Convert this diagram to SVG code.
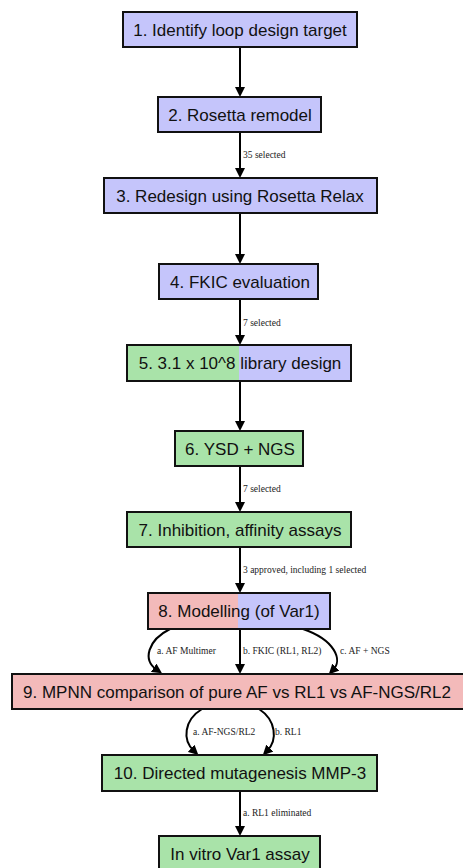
<svg xmlns="http://www.w3.org/2000/svg" width="463" height="868" viewBox="0 0 463 868">
<style>
.box{stroke:#111;stroke-width:2}
.blue{fill:#c5c5fb}
.green{fill:#a9e3a9}
.pink{fill:#f3baba}
.none{fill:none}
.t{font-family:"Liberation Sans",Arial,sans-serif;font-size:17px;fill:#111;text-anchor:middle}
.lbl{font-family:"Liberation Serif","Times New Roman",serif;font-size:9.5px;fill:#222}
.e{fill:none;stroke:#000;stroke-width:2;marker-end:url(#arr)}
</style>
<defs>
<marker id="arr" markerUnits="userSpaceOnUse" markerWidth="10" markerHeight="10" refX="4" refY="5" orient="auto">
<path d="M0,0 L10,5 L0,10 z" fill="#000"/>
</marker>
</defs>
<rect width="463" height="868" fill="#fff"/>
<g id="edges">
<path class="e" d="M240,47 L240,91"/>
<path class="e" d="M240,132 L240,172"/>
<path class="e" d="M240,213 L240,258"/>
<path class="e" d="M240,299 L240,339"/>
<path class="e" d="M240,381 L240,425"/>
<path class="e" d="M240,466 L240,506"/>
<path class="e" d="M240,547 L240,587"/>
<path class="e" d="M170,629 C148,640 142,660 157,670"/>
<path class="e" d="M240,629 L240,668"/>
<path class="e" d="M303,629 C335,640 343,660 333,670"/>
<path class="e" d="M202,709 C184,720 182,740 194,751"/>
<path class="e" d="M259,709 C276,720 278,740 267,751"/>
<path class="e" d="M240,791 L240,830"/>
<text class="lbl" x="243" y="158">35 selected</text>
<text class="lbl" x="243" y="326">7 selected</text>
<text class="lbl" x="243" y="492">7 selected</text>
<text class="lbl" x="243" y="573">3 approved, including 1 selected</text>
<text class="lbl" x="157" y="654">a. AF Multimer</text>
<text class="lbl" x="243" y="654">b. FKIC (RL1, RL2)</text>
<text class="lbl" x="340" y="654">c. AF + NGS</text>
<text class="lbl" x="193" y="735">a. AF-NGS/RL2</text>
<text class="lbl" x="275" y="735">b. RL1</text>
<text class="lbl" x="243" y="816">a. RL1 eliminated</text>
</g>
<g id="n1"><rect class="box blue" x="123" y="12" width="234" height="35"/><text class="t" x="240" y="35.5">1. Identify loop design target</text></g>
<g id="n2"><rect class="box blue" x="158" y="97" width="163" height="35"/><text class="t" x="240" y="120.5">2. Rosetta remodel</text></g>
<g id="n3"><rect class="box blue" x="104" y="178" width="273" height="35"/><text class="t" x="240" y="201.5">3. Redesign using Rosetta Relax</text></g>
<g id="n4"><rect class="box blue" x="159" y="264" width="159" height="35"/><text class="t" x="240" y="287.5">4. FKIC evaluation</text></g>
<g id="n5"><rect class="green" x="127" y="345" width="112" height="36"/><rect class="blue" x="239" y="345" width="112" height="36"/><rect class="box none" x="127" y="345" width="224" height="36"/><text class="t" x="240" y="369">5. 3.1 x 10^8 library design</text></g>
<g id="n6"><rect class="box green" x="175" y="431" width="128" height="35"/><text class="t" x="240" y="454.5">6. YSD + NGS</text></g>
<g id="n7"><rect class="box green" x="127" y="512" width="224" height="35"/><text class="t" x="240" y="535.5">7. Inhibition, affinity assays</text></g>
<g id="n8"><rect class="pink" x="148" y="593" width="90" height="36"/><rect class="blue" x="238" y="593" width="92" height="36"/><rect class="box none" x="148" y="593" width="182" height="36"/><text class="t" x="239" y="617">8. Modelling (of Var1)</text></g>
<g id="n9"><rect class="box pink" x="12" y="674" width="456" height="35"/><text class="t" x="237" y="697.5">9. MPNN comparison of pure AF vs RL1 vs AF-NGS/RL2</text></g>
<g id="n10"><rect class="box green" x="102" y="755" width="275" height="36"/><text class="t" x="240" y="779">10. Directed mutagenesis MMP-3</text></g>
<g id="n11"><rect class="box green" x="159" y="836" width="161" height="36"/><text class="t" x="240" y="860">In vitro Var1 assay</text></g>
</svg>
